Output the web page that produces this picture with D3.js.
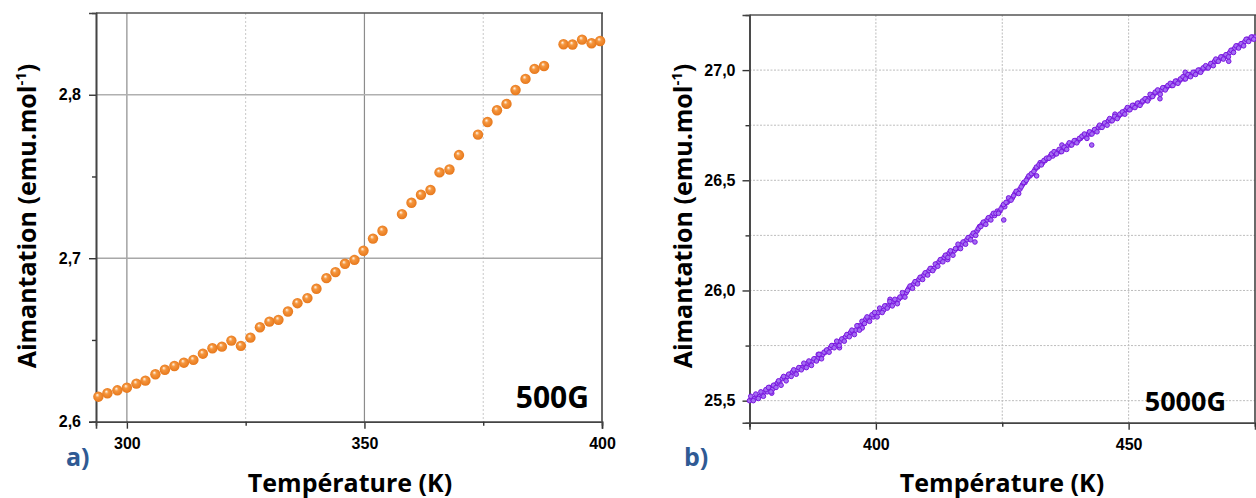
<!DOCTYPE html>
<html><head><meta charset="utf-8">
<script src="https://cdn.jsdelivr.net/npm/d3@7"></script>
<style>
html,body{margin:0;padding:0;background:#fff;}
svg{display:block;}
.tick text{font-family:"Liberation Sans",Arial,sans-serif;font-weight:bold;font-size:16px;fill:#000;}
</style></head>
<body>
<svg id="chart" width="1256" height="498"></svg>
<script>
// ---------- Panel a) 500G ----------
const tempA = [294.0,295.9,298.0,300.0,302.0,303.9,306.0,308.0,310.0,312.0,314.0,316.0,318.0,320.0,322.0,324.0,326.0,328.0,330.0,331.9,333.9,335.9,338.0,339.9,342.0,343.9,345.9,347.9,349.8,351.8,353.8,357.9,359.9,361.9,363.9,365.8,367.9,369.9,373.9,375.9,377.9,379.9,381.8,383.9,385.8,387.8,391.9,393.8,395.8,397.8,399.6];
const magA = [2.6153,2.6174,2.6192,2.6208,2.6233,2.6251,2.6290,2.6318,2.6341,2.6361,2.6378,2.6416,2.6449,2.6459,2.6496,2.6464,2.6514,2.6578,2.6612,2.6623,2.6674,2.6725,2.6756,2.6813,2.6878,2.6915,2.6966,2.6990,2.7046,2.7120,2.7168,2.7270,2.7339,2.7388,2.7417,2.7525,2.7543,2.7631,2.7756,2.7833,2.7905,2.7944,2.8029,2.8097,2.8158,2.8176,2.8309,2.8307,2.8337,2.8315,2.8329];
const xTicksA = [300, 350, 400];
const xMinorA = [325, 375];
const yTicksA = [2.6, 2.7, 2.8];
const yMinorA = [2.65, 2.75];
const labelA = "500G";

// ---------- Panel b) 5000G ----------
const tempB = [375.0,375.5,376.0,376.5,377.0,377.5,378.0,378.5,379.0,379.5,380.0,380.5,381.0,381.5,382.0,382.5,383.0,383.5,384.0,384.5,385.0,
385.5,386.0,386.5,387.0,387.5,388.0,388.5,389.0,389.5,390.0,390.5,391.0,391.5,392.0,392.5,393.0,393.5,394.0,394.5,395.0,395.5,396.0,396.5,397.0,397.5,398.0,
398.5,399.0,399.5,400.0,400.5,401.0,401.5,402.0,402.5,403.0,403.5,404.0,404.5,405.0,405.5,406.0,406.5,407.0,407.5,408.0,
408.5,409.0,409.5,410.0,410.5,411.0,411.5,412.0,412.5,413.0,413.5,414.0,414.5,
415.0,415.5,416.0,416.5,417.0,417.5,418.0,418.5,419.0,419.5,420.0,420.5,421.0,421.5,422.0,422.5,423.0,423.5,424.0,424.5,425.0,425.5,
426.0,426.5,427.0,427.5,428.0,428.5,429.0,429.5,430.0,430.5,431.0,431.5,432.0,432.5,433.0,433.5,434.0,434.5,435.0,435.5,436.0,436.5,437.0,437.5,438.0,438.5,439.0,439.5,440.0,
440.5,441.0,441.5,442.0,442.5,443.0,443.5,444.0,444.5,445.0,445.5,446.0,446.5,447.0,447.5,448.0,448.5,449.0,449.5,450.0,
450.5,451.0,451.5,452.0,452.5,453.0,453.5,454.0,454.5,455.0,455.5,456.0,456.5,457.0,457.5,458.0,458.5,459.0,459.5,460.0,
460.5,461.0,461.5,462.0,462.5,463.0,463.5,464.0,464.5,465.0,465.5,466.0,466.5,467.0,467.5,468.0,468.5,469.0,469.5,470.0,
470.5,471.0,471.5,472.0,472.5,473.0,473.5,474.0,474.5,475.0,
379.4,397.3,419.6,425.3,442.7,456.2,431.8,436.8,414.2,402.8,388.6,447.3,461.2,469.8,392.8];
const magB = [25.50,25.51,25.51,25.52,25.52,25.53,25.54,25.54,25.56,25.55,25.57,25.58,25.58,25.60,25.60,25.61,25.62,25.63,25.63,25.64,25.65,
25.65,25.66,25.67,25.67,25.68,25.69,25.69,25.71,25.71,25.72,25.73,25.74,25.75,25.75,25.76,25.77,25.78,25.79,25.80,25.81,25.81,25.82,25.84,25.84,25.85,25.87,
25.87,25.88,25.88,25.89,25.90,25.91,25.91,25.93,25.93,25.94,25.95,25.95,25.96,25.97,25.98,25.99,26.01,26.02,26.03,26.04,
26.05,26.06,26.07,26.08,26.09,26.10,26.10,26.12,26.13,26.14,26.15,26.16,26.17,
26.17,26.18,26.19,26.20,26.21,26.22,26.23,26.24,26.25,26.26,26.27,26.29,26.30,26.31,26.32,26.33,26.34,26.34,26.36,26.36,26.38,26.38,
26.40,26.41,26.42,26.44,26.45,26.46,26.48,26.49,26.51,26.52,26.53,26.55,26.56,26.58,26.58,26.59,26.60,26.61,26.61,26.62,26.63,26.63,26.64,26.65,26.66,26.66,26.67,26.68,26.68,
26.69,26.70,26.70,26.71,26.71,26.72,26.73,26.74,26.74,26.75,26.76,26.77,26.77,26.78,26.79,26.79,26.80,26.81,26.82,26.82,
26.83,26.84,26.84,26.85,26.85,26.86,26.87,26.87,26.88,26.89,26.90,26.90,26.91,26.92,26.92,26.93,26.93,26.94,26.95,26.95,
26.96,26.96,26.97,26.98,26.98,26.99,26.99,27.00,27.00,27.01,27.01,27.02,27.03,27.04,27.04,27.05,27.06,27.06,27.07,27.08,
27.09,27.10,27.11,27.11,27.12,27.13,27.14,27.14,27.15,27.15,
25.534,25.83,26.22,26.32,26.66,26.87,26.52,26.66,26.14,25.96,25.71,26.80,26.99,27.04,25.74];
// second sweep of readings, interleaved between the first
const tempB2 = [375.25,375.75,376.25,376.75,377.25,377.75,378.25,378.75,379.25,379.75,380.25,380.75,381.25,381.75,382.25,382.75,383.25,383.75,384.25,384.75,
385.25,385.75,386.25,386.75,387.25,387.75,388.25,388.75,389.25,389.75,390.25,390.75,391.25,391.75,392.25,392.75,393.25,393.75,394.25,394.75,
395.25,395.75,396.25,396.75,397.25,397.75,398.25,398.75,399.25,399.75,400.25,400.75,401.25,401.75,402.25,402.75,403.25,403.75,404.25,404.75,
405.25,405.75,406.25,406.75,407.25,407.75,408.25,408.75,409.25,409.75,410.25,410.75,411.25,411.75,412.25,412.75,413.25,413.75,414.25,414.75,
415.25,415.75,416.25,416.75,417.25,417.75,418.25,418.75,419.25,419.75,420.25,420.75,421.25,421.75,422.25,422.75,423.25,423.75,424.25,424.75,
425.25,425.75,426.25,426.75,427.25,427.75,428.25,428.75,429.25,429.75,430.25,430.75,431.25,431.75,432.25,432.75,433.25,433.75,434.25,434.75,
435.25,435.75,436.25,436.75,437.25,437.75,438.25,438.75,439.25,439.75,440.25,440.75,441.25,441.75,442.25,442.75,443.25,443.75,444.25,444.75,
445.25,445.75,446.25,446.75,447.25,447.75,448.25,448.75,449.25,449.75,450.25,450.75,451.25,451.75,452.25,452.75,453.25,453.75,454.25,454.75,
455.25,455.75,456.25,456.75,457.25,457.75,458.25,458.75,459.25,459.75,460.25,460.75,461.25,461.75,462.25,462.75,463.25,463.75,464.25,464.75,
465.25,465.75,466.25,466.75,467.25,467.75,468.25,468.75,469.25,469.75,470.25,470.75,471.25,471.75,472.25,472.75,473.25,473.75,474.25,474.75];
const magB2 = [25.52,25.50,25.53,25.51,25.54,25.52,25.55,25.56,25.54,25.57,25.56,25.59,25.57,25.61,25.59,25.62,25.61,25.64,25.62,25.65,
25.64,25.67,25.65,25.68,25.66,25.69,25.68,25.71,25.69,25.72,25.73,25.72,25.75,25.74,25.77,25.75,25.78,25.77,25.80,25.79,
25.82,25.80,25.84,25.82,25.86,25.85,25.88,25.86,25.89,25.90,25.88,25.92,25.90,25.93,25.92,25.95,25.93,25.96,25.94,25.97,
25.99,25.97,26.00,26.02,26.01,26.04,26.03,26.06,26.05,26.08,26.07,26.10,26.09,26.12,26.11,26.14,26.13,26.16,26.15,26.18,
26.16,26.19,26.21,26.19,26.22,26.21,26.24,26.23,26.26,26.25,26.28,26.29,26.31,26.30,26.33,26.32,26.35,26.35,26.35,26.37,
26.39,26.40,26.42,26.41,26.43,26.45,26.44,26.47,26.49,26.50,26.52,26.53,26.54,26.56,26.57,26.57,26.59,26.60,26.60,26.62,
26.63,26.62,26.64,26.63,26.65,26.64,26.67,26.66,26.68,26.67,26.69,26.70,26.71,26.69,26.72,26.71,26.73,26.72,26.75,26.74,
26.76,26.75,26.78,26.77,26.79,26.78,26.80,26.81,26.80,26.83,26.82,26.84,26.83,26.85,26.84,26.86,26.87,26.86,26.89,26.88,
26.90,26.91,26.89,26.92,26.91,26.93,26.94,26.93,26.95,26.94,26.96,26.97,26.96,26.98,26.97,26.99,26.98,27.00,26.99,27.01,
27.02,27.01,27.03,27.02,27.05,27.04,27.06,27.05,27.07,27.06,27.09,27.08,27.11,27.10,27.12,27.11,27.14,27.13,27.15,27.14];
const xTicksB = [400, 450];
const xMinorB = [375, 425, 475];
const yTicksB = [25.5, 26.0, 26.5, 27.0];
const yMinorB = [25.75, 26.25, 26.75];
const labelB = "5000G";

const xTitle = "Température (K)";
const yTitleMain = "Aimantation (emu.mol";
const yTitleSup = "-1";

const TITLE_FONT = "'Open Sans', Lato, sans-serif";
const svg = d3.select("#chart");
const defs = svg.append("defs");
const grad = defs.append("radialGradient").attr("id","sphere")
  .attr("cx","50%").attr("cy","50%").attr("r","55%").attr("fx","38%").attr("fy","32%");
grad.append("stop").attr("offset","0%").attr("stop-color","#ffffff");
grad.append("stop").attr("offset","14%").attr("stop-color","#fbd1a6");
grad.append("stop").attr("offset","35%").attr("stop-color","#f5963e");
grad.append("stop").attr("offset","100%").attr("stop-color","#e57417");

const comma = d => d3.format(".1f")(d).replace(".", ",");

function panel(cfg) {
  const g = svg.append("g");
  const x = d3.scaleLinear(cfg.xDomain, [cfg.left, cfg.right]);
  const y = d3.scaleLinear(cfg.yDomain, [cfg.bottom, cfg.top]);

  // grid
  cfg.vGrid.forEach(v => g.append("line")
    .attr("x1", x(v.value)).attr("x2", x(v.value)).attr("y1", cfg.top).attr("y2", cfg.bottom)
    .attr("stroke", v.color).attr("stroke-width", v.width).attr("stroke-dasharray", v.dash || null));
  cfg.hGrid.forEach(v => g.append("line")
    .attr("y1", y(v.value)).attr("y2", y(v.value)).attr("x1", cfg.left).attr("x2", cfg.right)
    .attr("stroke", v.color).attr("stroke-width", v.width).attr("stroke-dasharray", v.dash || null));

  // frame top/right
  g.append("line").attr("x1", cfg.left).attr("x2", cfg.right + 1).attr("y1", cfg.top).attr("y2", cfg.top)
    .attr("stroke", "#555").attr("stroke-width", 1.6);
  g.append("line").attr("x1", cfg.right).attr("x2", cfg.right).attr("y1", cfg.top).attr("y2", cfg.bottom)
    .attr("stroke", "#444").attr("stroke-width", 1.6);

  // axes
  const xa = g.append("g").attr("transform", `translate(0,${cfg.bottom})`)
    .call(d3.axisBottom(x).tickValues(cfg.xTicks).tickSize(7).tickPadding(9).tickFormat(d3.format("d")));
  const xm = g.append("g").attr("transform", `translate(0,${cfg.bottom})`)
    .call(d3.axisBottom(x).tickValues(cfg.xMinor).tickSize(4).tickFormat(""));
  const ya = g.append("g").attr("transform", `translate(${cfg.left},0)`)
    .call(d3.axisLeft(y).tickValues(cfg.yTicks).tickSize(7).tickPadding(cfg.yPad).tickFormat(comma));
  const ym = g.append("g").attr("transform", `translate(${cfg.left},0)`)
    .call(d3.axisLeft(y).tickValues(cfg.yMinor).tickSize(4).tickFormat(""));
  [xa, xm, ya, ym].forEach(a => {
    a.select(".domain").attr("stroke", "#444").attr("stroke-width", 1.6);
    a.selectAll(".tick line").attr("stroke", "#333").attr("stroke-width", 1.4);
  });

  // data
  cfg.series.forEach(s => {
    const pts = s.temps.map((t, i) => ({t, m: s.mags[i]}));
    g.append("g").selectAll("circle").data(pts).join("circle")
      .attr("cx", d => x(d.t)).attr("cy", d => y(d.m))
      .attr("r", cfg.r).attr("fill", cfg.fill).attr("stroke", cfg.stroke || "none")
      .attr("stroke-width", cfg.strokeW || 0);
  });

  // field label
  g.append("text").attr("x", cfg.fieldX).attr("y", cfg.fieldY)
    .attr("text-anchor", "end")
    .style("font-family", TITLE_FONT).style("font-weight", "bold")
    .style("font-size", cfg.fieldSize + "px").text(cfg.fieldText);

  // panel letter
  g.append("text").attr("x", cfg.letterX).attr("y", 466)
    .style("font-family", TITLE_FONT).style("font-weight", "bold")
    .style("font-size", "25px").attr("fill", "#2f5a94").text(cfg.letter);

  // x title
  g.append("text").attr("x", cfg.xTitleX).attr("y", 492).attr("text-anchor", "middle")
    .style("font-family", TITLE_FONT).style("font-weight", "bold")
    .style("font-size", "25px").text(xTitle);

  // y title
  const yt = g.append("text").attr("transform", `translate(${cfg.yTitleX},216) rotate(-90)`)
    .attr("text-anchor", "middle")
    .style("font-family", TITLE_FONT).style("font-weight", "bold")
    .style("font-size", "25px");
  yt.append("tspan").text(yTitleMain);
  yt.append("tspan").attr("baseline-shift", "super").style("font-size", "15px").text(yTitleSup);
  yt.append("tspan").text(")");
}

panel({
  xDomain: [293.5, 400], yDomain: [2.6, 2.85],
  left: 96, right: 602, top: 13, bottom: 421.7,
  xTicks: xTicksA, xMinor: xMinorA, yTicks: yTicksA, yMinor: yMinorA, yPad: 8,
  vGrid: [
    {value: 300, color: "#8c8c8c", width: 1.2},
    {value: 350, color: "#8c8c8c", width: 1.2},
    {value: 325, color: "#c8c8c8", width: 1, dash: "2,2"},
    {value: 375, color: "#c8c8c8", width: 1, dash: "2,2"}
  ],
  hGrid: [
    {value: 2.7, color: "#a8a8a8", width: 1.5},
    {value: 2.8, color: "#b0b0b0", width: 1.5}
  ],
  series: [{temps: tempA, mags: magA}], r: 5.2, fill: "url(#sphere)",
  fieldText: labelA, fieldX: 589, fieldY: 408, fieldSize: 30,
  letter: "a)", letterX: 66, xTitleX: 350, yTitleX: 36
});

panel({
  xDomain: [375, 475], yDomain: [25.4, 27.25],
  left: 749.5, right: 1255, top: 15, bottom: 422.7,
  xTicks: xTicksB, xMinor: xMinorB, yTicks: yTicksB, yMinor: yMinorB, yPad: 7,
  vGrid: [
    {value: 400, color: "#bdbdbd", width: 1, dash: "2,1.5"},
    {value: 425, color: "#bdbdbd", width: 1, dash: "2,1.5"},
    {value: 450, color: "#bdbdbd", width: 1, dash: "2,1.5"}
  ],
  hGrid: yTicksB.concat(yMinorB).map(v => ({value: v, color: "#bdbdbd", width: 1, dash: "2,1.5"})),
  series: [{temps: tempB, mags: magB}, {temps: tempB2, mags: magB2}],
  r: 2.3, fill: "#a46ef2", stroke: "#7a16e0", strokeW: 1,
  fieldText: labelB, fieldX: 1226, fieldY: 411, fieldSize: 27,
  letter: "b)", letterX: 684, xTitleX: 1002, yTitleX: 692
});
</script>
</body></html>
